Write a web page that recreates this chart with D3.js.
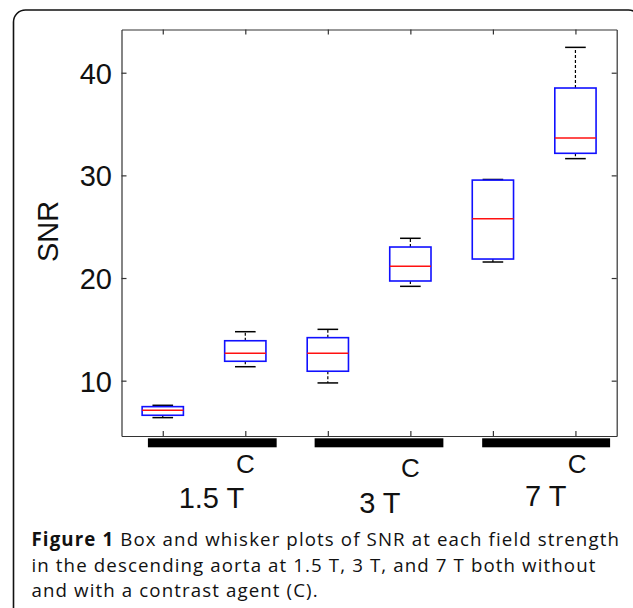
<!DOCTYPE html>
<html>
<head>
<meta charset="utf-8">
<script src="https://cdn.jsdelivr.net/npm/d3@7"></script>
<style>
  body { margin: 0; background: #fff; }
  svg { display: block; }
</style>
</head>
<body>
<svg class="svg" width="633" height="608"></svg>
<script>
// box stats (SNR)
let positions = [1, 2, 3, 4, 5, 6];
let lowerWhisker = [6.40, 11.36, 9.78, 19.19, 21.56, 31.63];
let q1 = [6.63, 11.89, 10.92, 19.71, 21.85, 32.15];
let medians = [7.12, 12.67, 12.67, 21.14, 25.77, 33.64];
let q3 = [7.47, 13.89, 14.19, 23.02, 29.54, 38.51];
let upperWhisker = [7.60, 14.77, 15.00, 23.87, 29.60, 42.47];

let yTicks = [10, 20, 30, 40];

// garbled tick label bars under the axis (x units)
let barStart = [0.82, 2.84, 4.87];
let barEnd = [2.38, 4.40, 6.42];

let cLabels = ['C', 'C', 'C'];
let cPos = [2.0, 4.0, 6.02];
let groupLabels = ['1.5 T', '3 T', '7 T'];
let groupPos = [1.59, 3.63, 5.64];

let captionBold = 'Figure 1';
let captionLines = [
    ' Box and whisker plots of SNR at each field strength',
    'in the descending aorta at 1.5 T, 3 T, and 7 T both without',
    'and with a contrast agent (C).'
];

let plotLeft = 121.5, plotRight = 616.7, plotTop = 29.5, plotBottom = 436;
let boxW = 0.5, capW = 0.25;
let axisFont = '"Liberation Sans", Arial, Helvetica, sans-serif';

let svg = d3.select('.svg');

// rounded outer frame, runs off the bottom edge
svg.append('rect')
    .attr('x', 13.5).attr('y', 10)
    .attr('width', 627).attr('height', 640)
    .attr('rx', 12).attr('ry', 12)
    .attr('fill', 'none').attr('stroke', '#111').attr('stroke-width', 1.6);

let x = d3.scaleLinear().domain([0.5, 6.5]).range([plotLeft, plotRight]);
let y = d3.scaleLinear().domain([4.61, 44.21]).range([plotBottom, plotTop]);

// axes on all four sides, ticks inward
let axL = svg.append('g').attr('transform', 'translate(' + plotLeft + ',0)')
    .call(d3.axisLeft(y).tickValues(yTicks).tickSizeInner(-5).tickSizeOuter(0).tickPadding(9.5));
let axR = svg.append('g').attr('transform', 'translate(' + plotRight + ',0)')
    .call(d3.axisRight(y).tickValues(yTicks).tickSizeInner(-5).tickSizeOuter(0).tickFormat(''));
let axB = svg.append('g').attr('transform', 'translate(0,' + plotBottom + ')')
    .call(d3.axisBottom(x).tickValues(positions).tickSizeInner(-5).tickSizeOuter(0).tickFormat(''));
let axT = svg.append('g').attr('transform', 'translate(0,' + plotTop + ')')
    .call(d3.axisTop(x).tickValues(positions).tickSizeInner(-5).tickSizeOuter(0).tickFormat(''));

[axL, axR, axB, axT].forEach(function (a) {
    a.selectAll('path, line').attr('stroke', '#333').attr('stroke-width', 1.2);
});
axL.selectAll('text')
    .style('font-family', axisFont).style('font-size', '29px').attr('fill', '#111')
    .attr('dy', '0.36em');

// y label
svg.append('text')
    .attr('transform', 'translate(58,231.5) rotate(-90)')
    .attr('text-anchor', 'middle')
    .style('font-family', axisFont).style('font-size', '29px').attr('fill', '#111')
    .text('SNR');

// boxes
let boxes = svg.append('g');
for (let i = 0; i < positions.length; i++) {
    let p = positions[i];
    let g = boxes.append('g');
    // dashed whiskers
    g.append('line')
        .attr('x1', x(p)).attr('x2', x(p))
        .attr('y1', y(q3[i])).attr('y2', y(upperWhisker[i]))
        .attr('stroke', '#000').attr('stroke-width', 1.2).attr('stroke-dasharray', '3,2');
    g.append('line')
        .attr('x1', x(p)).attr('x2', x(p))
        .attr('y1', y(q1[i])).attr('y2', y(lowerWhisker[i]))
        .attr('stroke', '#000').attr('stroke-width', 1.2).attr('stroke-dasharray', '3,2');
    // caps
    [upperWhisker[i], lowerWhisker[i]].forEach(function (v) {
        g.append('line')
            .attr('x1', x(p - capW / 2)).attr('x2', x(p + capW / 2))
            .attr('y1', y(v)).attr('y2', y(v))
            .attr('stroke', '#000').attr('stroke-width', 1.5);
    });
    g.append('rect')
        .attr('x', x(p - boxW / 2)).attr('width', x(p + boxW / 2) - x(p - boxW / 2))
        .attr('y', y(q3[i])).attr('height', y(q1[i]) - y(q3[i]))
        .attr('fill', 'none').attr('stroke', '#1010ff').attr('stroke-width', 1.6);
    g.append('line')
        .attr('x1', x(p - boxW / 2)).attr('x2', x(p + boxW / 2))
        .attr('y1', y(medians[i])).attr('y2', y(medians[i]))
        .attr('stroke', '#ff1010').attr('stroke-width', 1.5);
}

// black bars below the axis
for (let i = 0; i < barStart.length; i++) {
    svg.append('rect')
        .attr('x', x(barStart[i])).attr('width', x(barEnd[i]) - x(barStart[i]))
        .attr('y', 438.3).attr('height', 9)
        .attr('fill', '#000');
}

let cBase = [472.7, 476.7, 472.7];
for (let i = 0; i < cLabels.length; i++) {
    svg.append('text')
        .attr('x', x(cPos[i])).attr('y', cBase[i])
        .attr('text-anchor', 'middle')
        .style('font-family', axisFont).style('font-size', '26px').attr('fill', '#111')
        .text(cLabels[i]);
}

let gBase = [508.3, 512.5, 506];
for (let i = 0; i < groupLabels.length; i++) {
    svg.append('text')
        .attr('x', x(groupPos[i])).attr('y', gBase[i])
        .attr('text-anchor', 'middle')
        .style('font-family', axisFont).style('font-size', '29px').attr('fill', '#111')
        .text(groupLabels[i]);
}

// caption
let capFont = '"Open Sans", "Noto Sans", sans-serif';
let capSize = 18.7;
let capBase = [546, 571.5, 597];
let capTexts = [];
for (let i = 0; i < captionLines.length; i++) {
    let t = svg.append('text')
        .attr('x', 31.5).attr('y', capBase[i])
        .style('font-family', capFont).style('font-size', capSize + 'px')
        .style('font-weight', 500)
        .attr('fill', '#111')
        .attr('xml:space', 'preserve');
    if (i === 0) {
        t.append('tspan').style('font-weight', 'bold').text(captionBold);
    }
    t.append('tspan').text(captionLines[i]);
    capTexts.push(t);
}
// spread the first line to its width in the figure
let w0 = capTexts[0].node().getComputedTextLength();
let nChars = (captionBold + captionLines[0]).length;
let spacing = Math.max(0, (588.5 - w0) / nChars);
capTexts.forEach(function (t) { t.style('letter-spacing', spacing + 'px'); });
</script>
</body>
</html>
